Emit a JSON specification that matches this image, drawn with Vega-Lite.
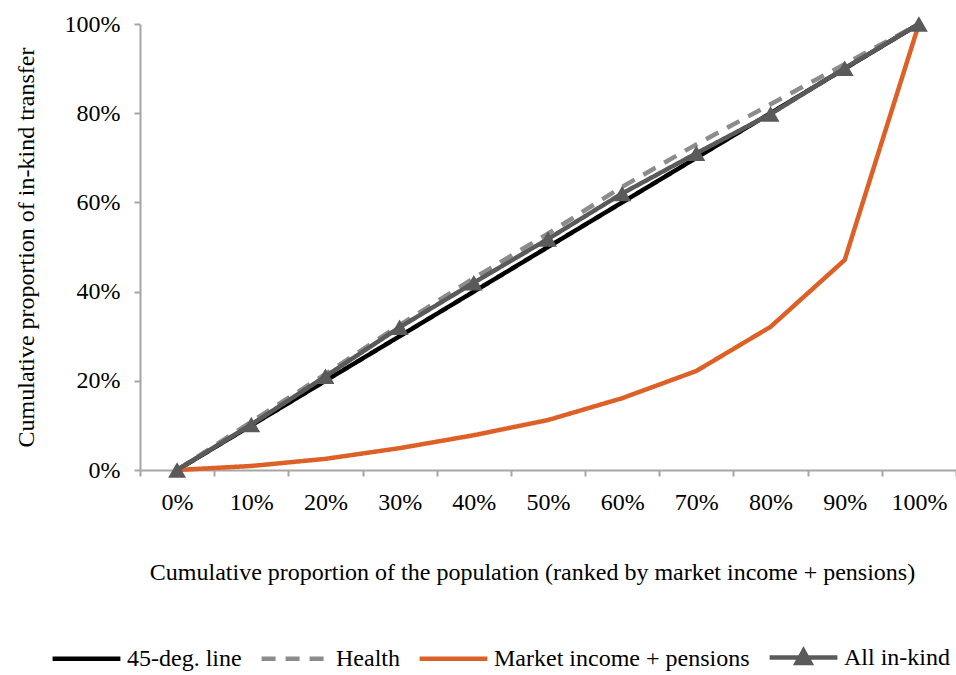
{
  "$schema": "https://vega.github.io/schema/vega-lite/v6.json",
  "autosize": "none",
  "width": 816,
  "height": 446,
  "padding": {"left": 140, "top": 24, "right": 0, "bottom": 205},
  "background": "white",
  "config": {
    "font": "Liberation Serif",
    "view": {"stroke": null},
    "axis": {"labelFont": "Liberation Serif", "titleFont": "Liberation Serif", "labelColor": "#000", "titleColor": "#000", "titleFontWeight": "normal", "labelFontSize": 24, "titleFontSize": 24, "domainColor": "#A6A6A6", "tickColor": "#A6A6A6", "domainWidth": 2, "tickWidth": 2, "grid": false},
    "legend": {"labelFont": "Liberation Serif", "labelFontSize": 24, "labelColor": "#000"}
  },
  "data": {"values": [
    {"p": "0%", "s": "45-deg. line", "v": 0},
    {"p": "10%", "s": "45-deg. line", "v": 10},
    {"p": "20%", "s": "45-deg. line", "v": 20},
    {"p": "30%", "s": "45-deg. line", "v": 30},
    {"p": "40%", "s": "45-deg. line", "v": 40},
    {"p": "50%", "s": "45-deg. line", "v": 50},
    {"p": "60%", "s": "45-deg. line", "v": 60},
    {"p": "70%", "s": "45-deg. line", "v": 70},
    {"p": "80%", "s": "45-deg. line", "v": 80},
    {"p": "90%", "s": "45-deg. line", "v": 90},
    {"p": "100%", "s": "45-deg. line", "v": 100},
    {"p": "0%", "s": "Health", "v": 0},
    {"p": "10%", "s": "Health", "v": 10.8},
    {"p": "20%", "s": "Health", "v": 21.5},
    {"p": "30%", "s": "Health", "v": 32.5},
    {"p": "40%", "s": "Health", "v": 43},
    {"p": "50%", "s": "Health", "v": 53},
    {"p": "60%", "s": "Health", "v": 63.5},
    {"p": "70%", "s": "Health", "v": 73},
    {"p": "80%", "s": "Health", "v": 82},
    {"p": "90%", "s": "Health", "v": 91},
    {"p": "100%", "s": "Health", "v": 100},
    {"p": "0%", "s": "Market income + pensions", "v": 0},
    {"p": "10%", "s": "Market income + pensions", "v": 0.9},
    {"p": "20%", "s": "Market income + pensions", "v": 2.5},
    {"p": "30%", "s": "Market income + pensions", "v": 4.9},
    {"p": "40%", "s": "Market income + pensions", "v": 7.8},
    {"p": "50%", "s": "Market income + pensions", "v": 11.2},
    {"p": "60%", "s": "Market income + pensions", "v": 16.1},
    {"p": "70%", "s": "Market income + pensions", "v": 22.2},
    {"p": "80%", "s": "Market income + pensions", "v": 32.1},
    {"p": "90%", "s": "Market income + pensions", "v": 47.1},
    {"p": "100%", "s": "Market income + pensions", "v": 100},
    {"p": "0%", "s": "All in-kind", "v": 0},
    {"p": "10%", "s": "All in-kind", "v": 10.2},
    {"p": "20%", "s": "All in-kind", "v": 21},
    {"p": "30%", "s": "All in-kind", "v": 32},
    {"p": "40%", "s": "All in-kind", "v": 42},
    {"p": "50%", "s": "All in-kind", "v": 51.8},
    {"p": "60%", "s": "All in-kind", "v": 62},
    {"p": "70%", "s": "All in-kind", "v": 71},
    {"p": "80%", "s": "All in-kind", "v": 79.8},
    {"p": "90%", "s": "All in-kind", "v": 90.1},
    {"p": "100%", "s": "All in-kind", "v": 100}
  ]},
  "encoding": {
    "x": {"field": "p", "type": "ordinal", "bandPosition": 0.5,
      "sort": ["0%","10%","20%","30%","40%","50%","60%","70%","80%","90%","100%"],
      "scale": {"type": "band", "paddingInner": 0, "paddingOuter": 0},
      "axis": {"title": "Cumulative proportion of the population (ranked by market income + pensions)", "labelAngle": 0, "tickBand": "extent", "tickSize": 6, "labelPadding": 14, "titlePadding": 46, "titleX": 392}},
    "y": {"field": "v", "type": "quantitative",
      "scale": {"domain": [0, 100]},
      "axis": {"title": "Cumulative proportion of in-kind transfer", "values": [0,20,40,60,80,100], "labelExpr": "datum.value + '%'", "tickSize": 6, "labelPadding": 14, "titlePadding": 26}},
    "color": {"field": "s", "type": "nominal",
      "scale": {"domain": ["45-deg. line", "Health", "Market income + pensions", "All in-kind"], "range": ["#000000", "#8C8C8C", "#DD6127", "#5A5A5A"]},
      "legend": {"title": null, "orient": "none", "direction": "horizontal", "legendX": -90, "legendY": 597, "symbolSize": 4600, "symbolStrokeWidth": 4.5, "labelOffset": 4, "columnPadding": 10, "symbolType": "stroke", "labelLimit": 400,
        "encode": {"symbols": {"update": {
          "shape": {"signal": "datum.value === 'All in-kind' ? 'M-1,0L1,0M-0.2,0.16L0,-0.2L0.2,0.16Z' : 'stroke'"},
          "fill": {"signal": "datum.value === 'All in-kind' ? '#5A5A5A' : 'transparent'"}
        }}}}}
  },
  "layer": [
    {"mark": {"type": "line", "strokeWidth": 4.5, "strokeCap": "butt"},
     "encoding": {
       "strokeDash": {"field": "s", "type": "nominal",
         "scale": {"domain": ["45-deg. line", "Health", "Market income + pensions", "All in-kind"], "range": [[1,0],[14,10],[1,0],[1,0]]}, "legend": null}
     }},
    {"transform": [{"filter": "datum.s === 'All in-kind'"}],
     "mark": {"type": "point", "shape": "triangle-up", "filled": true, "size": 320, "opacity": 1},
     "encoding": {"color": {"field": "s", "type": "nominal", "legend": null}}}
  ]
}
